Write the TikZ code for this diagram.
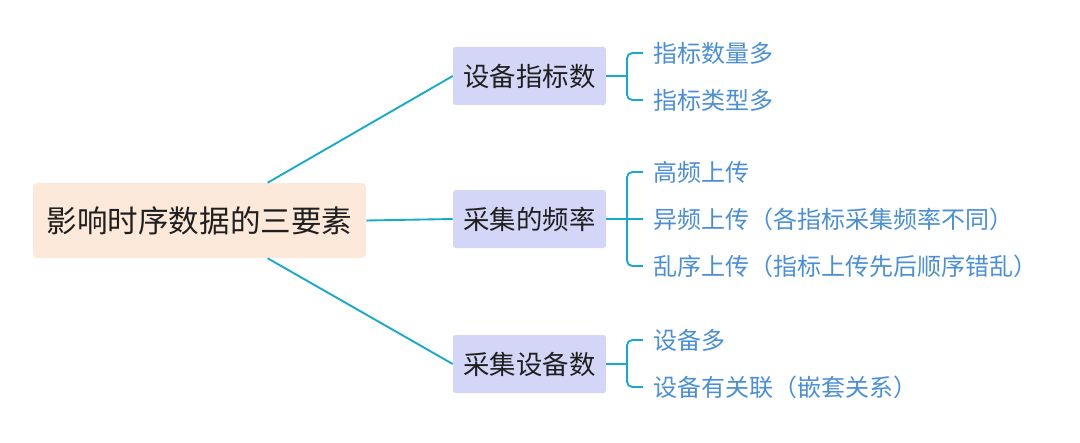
\documentclass[tikz,border=0pt]{standalone}
\usepackage{fontspec}
\newfontfamily\cjk{Noto Sans CJK SC}
\usepackage{xcolor}
\usetikzlibrary{positioning}
\definecolor{rootfill}{HTML}{FCE9DA}
\definecolor{catfill}{HTML}{D4D6F7}
\definecolor{linkcol}{HTML}{17A9CB}
\definecolor{leafcol}{HTML}{4A8FD6}

\begin{document}
\begin{tikzpicture}[
  x=0.75pt, y=-0.75pt,
  root/.style={fill=rootfill, rounded corners=3pt, minimum width=249.75pt, minimum height=56.25pt, text=black!88, font=\cjk\fontsize{22.9}{28}\selectfont},
  cat/.style={fill=catfill, rounded corners=2pt, minimum width=114.75pt, minimum height=43.5pt, text=black!88, font=\cjk\fontsize{19.8}{24}\selectfont},
  leaf/.style={anchor=west, inner sep=0pt, text=leafcol, font=\cjk\fontsize{18}{22}\selectfont},
  link/.style={draw=linkcol, line width=1.4pt},
  brace/.style={link, rounded corners=4pt}
]
\useasboundingbox (0,0) rectangle (1080,442);

\node[root] (root) at (199.5,220.5) {影响时序数据的三要素};

\node[cat] (dev) at (529.5,76) {设备指标数};
\node[cat] (freq) at (529.5,219) {采集的频率};
\node[cat] (num) at (529.5,364) {采集设备数};

% leaves
\node[leaf] (dev1) at (653,53) {指标数量多};
\node[leaf] (dev2) at (653,100) {指标类型多};
\node[leaf] (freq1) at (653,172) {高频上传};
\node[leaf] (freq2) at (653,219) {异频上传（各指标采集频率不同）};
\node[leaf] (freq3) at (653,266) {乱序上传（指标上传先后顺序错乱）};
\node[leaf] (num1) at (653,340) {设备多};
\node[leaf] (num2) at (653,387) {设备有关联（嵌套关系）};

% root to categories
\draw[link] (root.29) -- (dev.west);
\draw[link] (root.east) -- (freq.west);
\draw[link] (root.-29) -- (num.west);

% brackets
\coordinate (jdev) at (627,76);
\coordinate (jfreq) at (627,219);
\coordinate (jnum) at (627,364);

\draw[link] (dev.east) -- (jdev);
\draw[brace] ([xshift=-7.5pt]dev1.west) -| (jdev) |- ([xshift=-7.5pt]dev2.west);

\draw[link] (freq.east) -- ([xshift=-7.5pt]freq2.west);
\draw[brace] ([xshift=-7.5pt]freq1.west) -| (jfreq) |- ([xshift=-7.5pt]freq3.west);

\draw[link] (num.east) -- (jnum);
\draw[brace] ([xshift=-7.5pt]num1.west) -| (jnum) |- ([xshift=-7.5pt]num2.west);
\end{tikzpicture}
\end{document}
